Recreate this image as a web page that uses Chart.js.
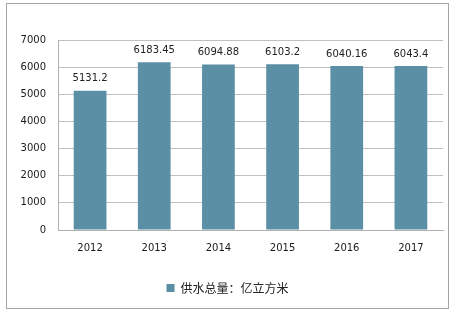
<!DOCTYPE html>
<html>
<head>
<meta charset="utf-8">
<script src="https://cdn.jsdelivr.net/npm/chart.js@4/dist/chart.umd.min.js"></script>
<style>
html,body{margin:0;padding:0;background:#fff;}
#wrap{position:relative;width:455px;height:313px;}
#frame{position:absolute;left:6px;top:3px;width:441px;height:304px;border:1px solid #a6a6a6;pointer-events:none;}
canvas{position:absolute;left:0;top:0;}
</style>
</head>
<body>
<div id="wrap">
<canvas id="c" width="455" height="313"></canvas>
<div id="frame"></div>
</div>
<script>
const categories = ['2012','2013','2014','2015','2016','2017'];
const supplyValues = [5131.2, 6183.45, 6094.88, 6103.2, 6040.16, 6043.4];
const valueLabels = ['5131.2','6183.45','6094.88','6103.2','6040.16','6043.4'];
const seriesName = '供水总量：亿立方米';
const yTicks = [0,1000,2000,3000,4000,5000,6000,7000];

const labelPlugin = {
  id: 'valueLabels',
  afterDatasetsDraw(chart) {
    const ctx = chart.ctx;
    const meta = chart.getDatasetMeta(0);
    ctx.save();
    ctx.font = '10px "DejaVu Sans"';
    ctx.fillStyle = '#222';
    ctx.textAlign = 'center';
    ctx.textBaseline = 'middle';
    meta.data.forEach((bar, i) => {
      ctx.fillText(valueLabels[i], bar.x, bar.y - 12);
    });
    ctx.restore();
  }
};

new Chart(document.getElementById('c'), {
  type: 'bar',
  data: {
    labels: categories,
    datasets: [{
      label: seriesName,
      data: supplyValues,
      backgroundColor: '#5b8fa5',
      borderWidth: 0,
      categoryPercentage: 1,
      barPercentage: 0.51
    }]
  },
  options: {
    responsive: false,
    animation: false,
    layout: { padding: { top: 40, right: 12, left: 12, bottom: 9 } },
    plugins: {
      tooltip: { enabled: false },
      legend: {
        position: 'bottom',
        labels: {
          boxWidth: 8, boxHeight: 8, padding: 10,
          color: '#222',
          font: { family: '"Noto Sans CJK SC"', size: 12 }
        }
      }
    },
    scales: {
      x: {
        grid: { display: false, drawTicks: false },
        border: { display: true, color: '#b0b0b0', width: 1 },
        ticks: { color: '#1a1a1a', font: { family: '"DejaVu Sans"', size: 10 }, padding: 12 },
        afterFit(s) { s.height = 42; }
      },
      y: {
        min: 0, max: 7000,
        afterBuildTicks(s) { s.ticks = yTicks.map(v => ({ value: v })); },
        grid: { color: '#c0c0c0', drawTicks: false },
        border: { display: true, color: '#b0b0b0', width: 1 },
        ticks: {
          color: '#1a1a1a', font: { family: '"DejaVu Sans"', size: 10 }, padding: 12,
          callback: (v) => String(v)
        },
        afterFit(s) { s.width = 46; }
      }
    }
  },
  plugins: [labelPlugin]
});
</script>
</body>
</html>
